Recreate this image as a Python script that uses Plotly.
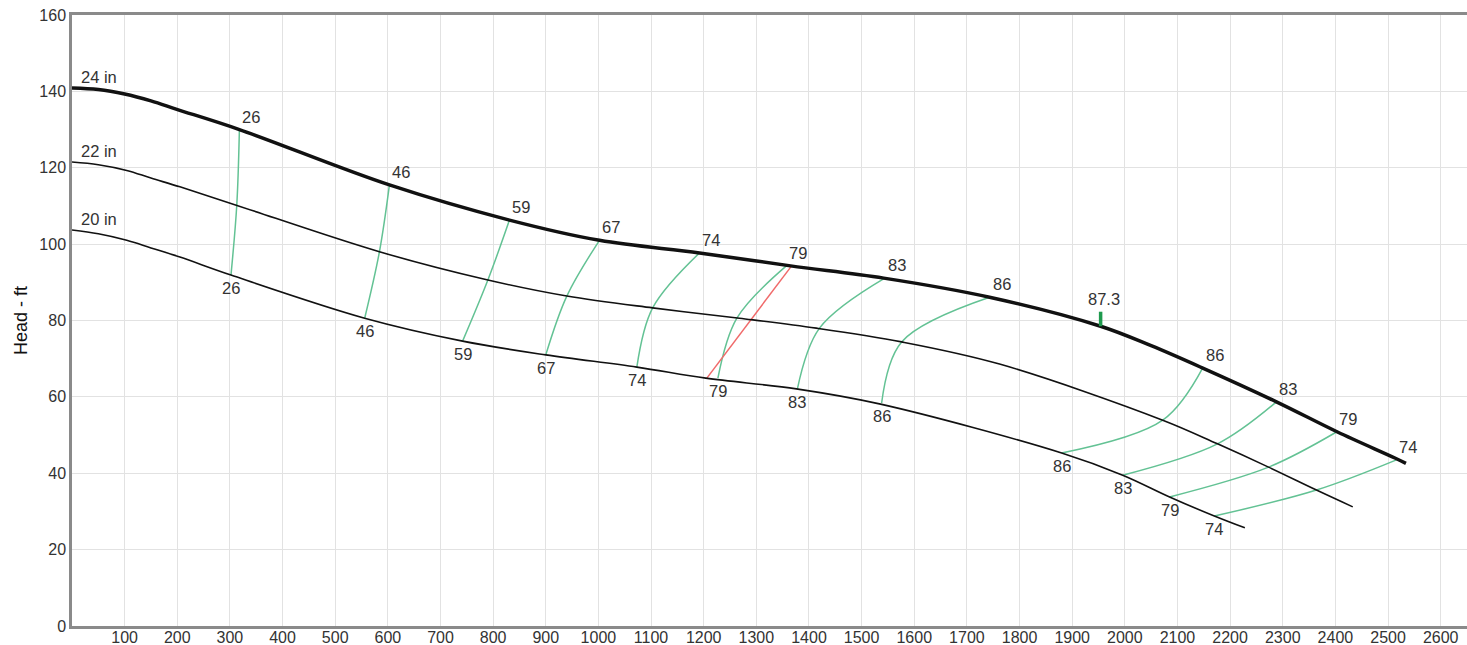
import plotly.graph_objects as go

# ---------------- data ----------------
flow_24 = [0, 50, 100, 150, 199, 318, 603, 831, 1002, 1192, 1365, 1542, 1743, 1954, 2050, 2147, 2288, 2404, 2513, 2534]
head_24 = [140.9, 140.5, 139.3, 137.5, 135.3, 130.0, 115.5, 106.3, 101, 97.7, 94.3, 91.1, 86.1, 78.5, 73.4, 67.6, 58.7, 50.8, 44, 42.6]

flow_22 = [0, 50, 104, 150, 205, 312, 584, 790, 940, 1103, 1268, 1414, 1576, 1762, 2072, 2176, 2273, 2364, 2433]
head_22 = [121.5, 120.8, 119.3, 117.3, 115, 110.2, 98.0, 90.6, 86.4, 83.3, 80.6, 78, 74.4, 68.6, 53.9, 47.7, 41.6, 35.6, 31.2]

flow_20 = [0, 50, 104, 150, 205, 302, 556, 742, 900, 1073, 1204, 1376, 1536, 1880, 1996, 2085, 2170, 2228]
head_20 = [103.7, 102.7, 101, 99, 96.6, 91.9, 80.6, 74.6, 71, 67.8, 64.9, 62.1, 58.1, 45.3, 39.5, 33.8, 28.8, 25.7]

impeller_labels = ["24 in", "22 in", "20 in"]

iso_eff = ["26", "46", "59", "67", "74", "79", "83", "86", "86", "83", "79", "74"]
iso_q_20 = [302, 556, 742, 900, 1073, 1227, 1378, 1538, 1880, 1996, 2085, 2170]
iso_h_20 = [91.9, 80.6, 74.6, 71, 67.8, 64.9, 62.1, 58.4, 45.3, 39.5, 33.8, 28.8]
iso_q_22 = [313, 584, 790, 940, 1103, 1263, 1420, 1576, 2072, 2176, 2273, 2364]
iso_h_22 = [110.2, 98.0, 90.6, 86.4, 83.3, 80.6, 78, 74.4, 53.9, 47.7, 41.6, 35.6]
iso_q_24 = [318, 603, 831, 1002, 1192, 1357, 1544, 1743, 2148, 2288, 2402, 2516]
iso_h_24 = [130.0, 115.5, 106.3, 101, 97.7, 94.3, 91.1, 86.1, 67.6, 58.7, 50.8, 43.5]

op_q = [1206, 1367]
op_h = [64.9, 94.3]

bep_q = 1954
bep_h = 78.5
bep_eff = "87.3"

x_ticks = list(range(100, 2700, 100))
y_ticks = list(range(0, 180, 20))

# ---------------- style ----------------
FONT = "Liberation Sans, Arial, sans-serif"
TXT = "#333333"
GREEN = "#63c294"
RED = "#f06a6a"
BEP_GREEN = "#1f9a4e"
LBL = 16.5
TICK = 16

fig = go.Figure()

# iso-efficiency lines
for i in range(len(iso_eff)):
    fig.add_trace(go.Scatter(
        x=[iso_q_20[i], iso_q_22[i], iso_q_24[i]],
        y=[iso_h_20[i], iso_h_22[i], iso_h_24[i]],
        mode="lines", line=dict(color=GREEN, width=1.5, shape="spline", smoothing=1.0),
        hoverinfo="skip", showlegend=False))

# operating line (red)
fig.add_trace(go.Scatter(x=op_q, y=op_h, mode="lines",
                         line=dict(color=RED, width=1.5), hoverinfo="skip", showlegend=False))

# impeller curves
for q, h, w in [(flow_20, head_20, 1.6), (flow_22, head_22, 1.6), (flow_24, head_24, 3.5)]:
    fig.add_trace(go.Scatter(x=q, y=h, mode="lines",
                             line=dict(color="#111111", width=w, shape="spline", smoothing=1.0),
                             hoverinfo="skip", showlegend=False))

# BEP tick
fig.add_trace(go.Scatter(x=[bep_q, bep_q], y=[bep_h, bep_h + 3.8], mode="lines",
                         line=dict(color=BEP_GREEN, width=3.5), hoverinfo="skip", showlegend=False))

ann = []
for lab, q, h in zip(impeller_labels, [flow_24[0], flow_22[0], flow_20[0]],
                     [head_24[0], head_22[0], head_20[0]]):
    ann.append(dict(x=q, y=h, text=lab, showarrow=False, xshift=27, yshift=11,
                    font=dict(family=FONT, size=LBL, color=TXT)))
for i, e in enumerate(iso_eff):
    ann.append(dict(x=iso_q_24[i], y=iso_h_24[i], text=e, showarrow=False, xshift=12, yshift=13,
                    font=dict(family=FONT, size=LBL, color=TXT)))
    ann.append(dict(x=iso_q_20[i], y=iso_h_20[i], text=e, showarrow=False, xshift=0, yshift=-13,
                    font=dict(family=FONT, size=LBL, color=TXT)))
ann.append(dict(x=bep_q, y=bep_h, text=bep_eff, showarrow=False, xshift=3, yshift=27,
                font=dict(family=FONT, size=LBL, color=TXT)))

fig.update_layout(
    width=1467, height=645,
    margin=dict(l=72, r=0, t=15, b=19, autoexpand=False),
    paper_bgcolor="white", plot_bgcolor="white",
    annotations=ann,
    hovermode=False,
    xaxis=dict(range=[0, 2650], tickvals=x_ticks, ticktext=[str(v) for v in x_ticks],
               showgrid=True, gridcolor="#e2e2e2", gridwidth=1,
               showline=True, linecolor="#8a8a8a", linewidth=2.5, mirror=True,
               ticks="", zeroline=False, automargin=False, ticklabelstandoff=-5,
               tickfont=dict(family=FONT, size=TICK, color=TXT)),
    yaxis=dict(range=[0, 160], tickvals=y_ticks, ticktext=[str(v) for v in y_ticks],
               showgrid=True, gridcolor="#e2e2e2", gridwidth=1,
               showline=True, linecolor="#8a8a8a", linewidth=2.5,
               ticks="", zeroline=False, automargin=False,
               tickfont=dict(family=FONT, size=TICK, color=TXT),
               title=dict(text="Head - ft", font=dict(family=FONT, size=18, color="#111111"),
                          standoff=8)),
)

fig.write_html("out.html", config={"displayModeBar": False},
               post_script="document.body.style.margin='0';document.body.style.overflow='hidden';")
